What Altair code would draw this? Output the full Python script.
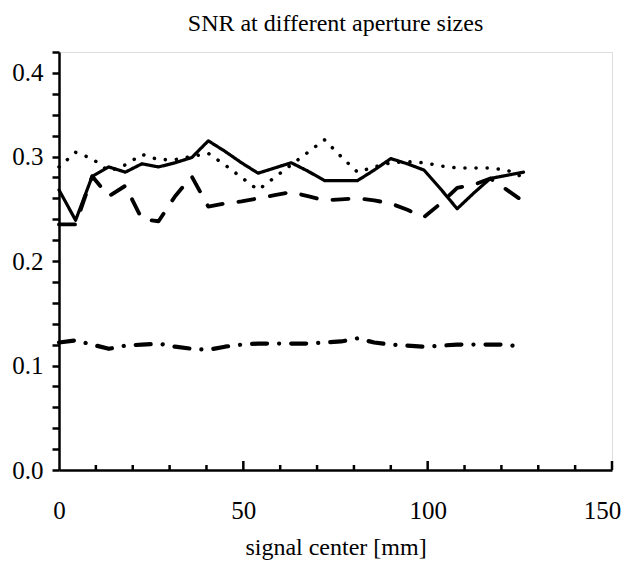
import altair as alt
import pandas as pd

# signal center positions [mm]
x_mm = [0, 4.5, 9, 13.5, 18, 22.5, 27, 31.5, 36, 40.5, 45, 49.5, 54, 58.5, 63,
        67.5, 72, 76.5, 81, 85.5, 90, 94.5, 99, 103.5, 108, 112.5, 117, 121.5, 126]

snr_solid = [0.268, 0.239, 0.281, 0.290, 0.285, 0.293, 0.290, 0.294, 0.299, 0.315,
             0.305, 0.294, 0.284, 0.289, 0.294, 0.286, 0.277, 0.277, 0.277, 0.287,
             0.298, 0.293, 0.287, 0.269, 0.250, 0.265, 0.279, 0.282, 0.285]
snr_dotted = [0.290, 0.304, 0.298, 0.286, 0.292, 0.302, 0.297, 0.297, 0.300, 0.303,
              0.292, 0.280, 0.268, 0.280, 0.292, 0.304, 0.316, 0.300, 0.285, 0.290,
              0.294, 0.295, 0.294, 0.291, 0.289, 0.289, 0.289, 0.287, 0.280]
snr_dashed = [0.235, 0.235, 0.281, 0.262, 0.272, 0.240, 0.238, 0.262, 0.281, 0.252,
              0.255, 0.257, 0.260, 0.263, 0.266, 0.262, 0.258, 0.259, 0.260, 0.258,
              0.255, 0.249, 0.242, 0.255, 0.270, 0.273, 0.279, 0.268, 0.257]
snr_dashdot = [0.122, 0.124, 0.120, 0.116, 0.119, 0.120, 0.121, 0.118, 0.116, 0.115,
               0.118, 0.120, 0.121, 0.121, 0.121, 0.121, 0.122, 0.123, 0.126, 0.122,
               0.120, 0.119, 0.118, 0.119, 0.120, 0.120, 0.120, 0.120, 0.117]

series_names = ["aperture 1", "aperture 2", "aperture 3", "aperture 4"]
series_values = [snr_solid, snr_dotted, snr_dashed, snr_dashdot]

x_label_values = [0, 50, 100, 150]
x_major_ticks = [50, 100, 150]
x_minor_ticks = [10, 20, 30, 40, 60, 70, 80, 90, 110, 120, 130, 140]
y_tick_values = [0.0, 0.02, 0.04, 0.06, 0.08, 0.1, 0.12, 0.14, 0.16, 0.18, 0.2,
                 0.22, 0.24, 0.26, 0.28, 0.3, 0.32, 0.34, 0.36, 0.38, 0.4]

rows = []
for name, vals in zip(series_names, series_values):
    for xv, yv in zip(x_mm, vals):
        rows.append({"series": name, "x": xv, "snr": yv})
df = pd.DataFrame(rows)

FONT = "Liberation Serif"
W, H = 553, 418

x_scale = alt.Scale(domain=[0, 150], nice=False, zero=False)
y_scale = alt.Scale(domain=[0, 0.4], nice=False)

label_expr = ("datum.value == 0.38 ? '0.4' : "
              "(datum.value < 0.35 && abs(datum.value*10 - round(datum.value*10)) < 0.001 "
              "? format(datum.value, '.1f') : '')")

lines = alt.Chart(df).mark_line(color="black", strokeCap="round",
                                strokeJoin="round").encode(
    x=alt.X("x:Q", scale=x_scale,
            axis=alt.Axis(values=x_label_values, ticks=False, grid=False,
                          labelFont=FONT, labelFontSize=25, labelColor="black",
                          labelPadding=28, labelFlush=False,
                          labelOffset={"condition": {"test": "datum.value == 150",
                                                     "value": -10},
                                       "value": 0},
                          domainColor="black",
                          domainWidth=2.5, title="signal center [mm]", titleFont=FONT,
                          titleFontSize=24, titleFontWeight="normal",
                          titleColor="black", titlePadding=12, format="d")),
    y=alt.Y("snr:Q", scale=y_scale,
            axis=alt.Axis(values=y_tick_values, labelExpr=label_expr, grid=False,
                          labelFont=FONT, labelFontSize=25, labelColor="black",
                          labelPadding=9, labelOverlap=False, labelFlush=False,
                          tickSize=7, tickWidth=2.5, tickColor="black",
                          domainColor="black", domainWidth=2.5, title=None)),
    strokeDash=alt.StrokeDash("series:N", legend=None,
                              scale=alt.Scale(domain=series_names,
                                              range=[[1, 0], [0.1, 11],
                                                     [16, 16], [15, 12, 0.1, 12]])),
    strokeWidth=alt.StrokeWidth("series:N", legend=None,
                                scale=alt.Scale(domain=series_names,
                                                range=[3.2, 4.2, 3.5, 3.5])),
    detail="series:N",
)

major_df = pd.DataFrame({"x": x_major_ticks})
minor_df = pd.DataFrame({"x": x_minor_ticks})

major = alt.Chart(major_df).mark_rule(color="black", strokeWidth=2.5).encode(
    x=alt.X("x:Q", scale=x_scale), y=alt.value(H), y2=alt.value(H - 9))
minor = alt.Chart(minor_df).mark_rule(color="black", strokeWidth=2.5).encode(
    x=alt.X("x:Q", scale=x_scale), y=alt.value(H), y2=alt.value(H - 5))

chart = alt.layer(lines, major, minor).properties(
    width=W, height=H,
    title=alt.TitleParams("SNR at different aperture sizes", font=FONT, fontSize=24,
                          fontWeight="normal", color="black", anchor="middle",
                          offset=4),
    autosize=alt.AutoSizeParams(type="none"),
    padding={"left": 51, "top": 44, "right": 9, "bottom": 95},
).configure_view(stroke=None).configure(background="white")

chart.save("out.html", embed_options={"renderer": "svg", "actions": False})
